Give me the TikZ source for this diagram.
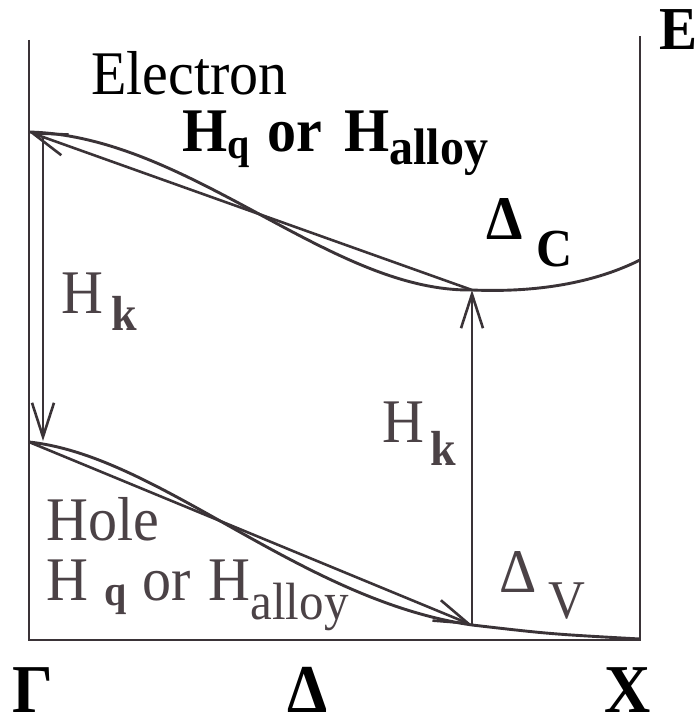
\documentclass[tikz,border=0pt]{standalone}
\usepackage{fontspec}
\setmainfont{Liberation Serif}
\usetikzlibrary{arrows.meta}
\definecolor{ink}{HTML}{3A3337}
\definecolor{greyink}{HTML}{4B4246}
% size helpers
\newcommand{\lblsize}{\fontsize{58}{62}\selectfont}
\newcommand{\lowsub}[3]{\raisebox{-#1pt}{\fontsize{#2}{#2}\selectfont #3}}

\begin{document}
\begin{tikzpicture}[x=1pt,y=-1pt,
    band/.style={ink,line width=2.9pt},
    kick/.style={ink,line width=2.6pt,-{Straight Barb[length=34pt,width=22pt]}},
    lbl/.style={anchor=base west,inner sep=0pt,font=\lblsize,yscale=1.07}]
  \useasboundingbox (0,0) rectangle (698,722);

  % Frame
  \coordinate (ftl) at (29,40);
  \coordinate (fbl) at (29,640);
  \coordinate (fbr) at (640,640);
  \coordinate (ftr) at (640,36);
  \draw[ink,line width=2.6pt] (ftl) -- (fbl) -- (fbr) -- (ftr);

  % Band points
  \coordinate (gc) at (29,132);
  \coordinate (dc) at (472,290);
  \coordinate (xc) at (640,260);
  \coordinate (gv) at (29,442);
  \coordinate (dv) at (472,625);
  \coordinate (xv) at (640,639);
  \coordinate (kt) at (43,137);
  \coordinate (kb) at (43,441);

  % Electron band
  \draw[band] (gc) .. controls (190,136) and (330,292) .. (dc)
              .. controls (545,293) and (600,280) .. (xc);
  \draw[kick] (dc) -- (gc);

  % Hole band
  \draw[band] (gv) .. controls (160,456) and (300,600) .. (dv)
              .. controls (550,634) .. (xv);
  \draw[kick] (gv) -- (dv);

  % k-space coupling
  \draw[kick] (kt) -- (kb);
  \draw[kick] (dv) -- (dc);

  % Labels
  \node[lbl,font=\fontsize{57}{60}\selectfont\bfseries] (energy) at (659,50) {E};
  \node[lbl] (electron) at (91,95) {Electron};
  \node[lbl,font=\lblsize\bfseries] (hq1) at (182,152)
    {H\lowsub{6}{40}{q}\hspace{18pt}or\hspace{22pt}H\lowsub{12}{48}{alloy}};
  \node[lbl,greyink] (hk1) at (61,313) {H\hspace{8pt}\lowsub{16}{46}{\bfseries k}};
  \node[lbl,font=\lblsize\bfseries] (dcl) at (486,239) {Δ\hspace{14pt}\lowsub{26}{50}{C}};
  \node[lbl,greyink] (hk2) at (382,442) {H\hspace{6pt}\lowsub{22}{46}{\bfseries k}};
  \node[lbl,greyink] (hole) at (46,540) {Hole};
  \node[lbl,greyink] (hq2) at (46,600)
    {H\hspace{16pt}\lowsub{5}{40}{\bfseries q}\hspace{16pt}or\hspace{18pt}H\lowsub{18}{49}{alloy}};
  \node[lbl,greyink] (dvl) at (499,592) {Δ\hspace{12pt}\lowsub{25}{51}{V}};

  % k-points
  \node[lbl,font=\fontsize{64}{68}\selectfont\bfseries] (gam) at (12,712) {Γ};
  \node[lbl,font=\fontsize{64}{68}\selectfont\bfseries] (del) at (287,712) {Δ};
  \node[lbl,font=\fontsize{64}{68}\selectfont\bfseries] (xpt) at (604,712) {X};
\end{tikzpicture}
\end{document}
